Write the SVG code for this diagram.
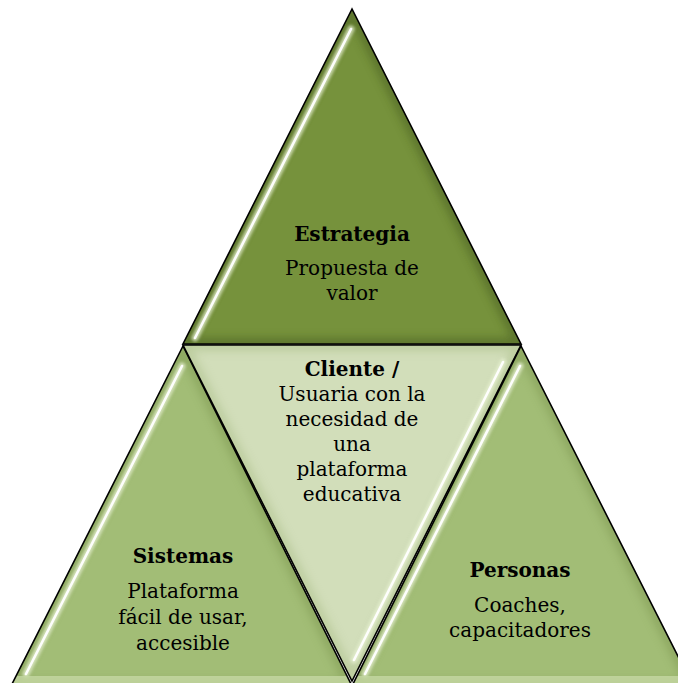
<svg xmlns="http://www.w3.org/2000/svg" width="678" height="683" viewBox="0 0 678 683">
<defs>
<style>
.t{font-family:"DejaVu Serif","Liberation Serif",serif;font-size:20px;fill:#000;text-anchor:middle}
.b{font-weight:bold}
.edge{fill:none;stroke:#000;stroke-width:1.6;stroke-linejoin:miter}
.shade{fill:none;stroke-width:12;filter:url(#blur4)}
.hl1{stroke:#e6f0d0;stroke-width:7;opacity:.75;filter:url(#blur2);stroke-linecap:round}
.hl2{stroke:#ffffff;stroke-width:2.6;opacity:.95;stroke-linecap:round}
</style>
<filter id="blur4" x="-20%" y="-20%" width="140%" height="140%"><feGaussianBlur stdDeviation="4"/></filter>
<filter id="blur2" x="-20%" y="-20%" width="140%" height="140%"><feGaussianBlur stdDeviation="1.5"/></filter>
<clipPath id="cT"><polygon points="352,9 183,344 521,344"/></clipPath>
<clipPath id="cL"><polygon points="183,346 11,686 352,686"/></clipPath>
<clipPath id="cC"><polygon points="183,345 521,345 352,681"/></clipPath>
<clipPath id="cR"><polygon points="521,346 352,686 693,686"/></clipPath>
</defs>
<rect width="678" height="683" fill="#fff"/>

<g id="node-estrategia">
<g clip-path="url(#cT)">
<polygon points="352,9 183,344 521,344" fill="#76923c"/>
<polygon points="352,9 183,344 521,344" class="shade" stroke="#4a5f22" opacity=".55"/>
<line x1="351" y1="29" x2="195" y2="338" class="hl1"/>
<line x1="351" y1="29" x2="195" y2="338" class="hl2"/>
</g>
<polygon points="352,9 183,344 521,344" class="edge"/>
<text class="t b" x="352" y="241">Estrategia</text>
<text class="t" x="352" y="275">Propuesta de</text>
<text class="t" x="352" y="300">valor</text>
</g>

<g id="node-sistemas">
<g clip-path="url(#cL)">
<polygon points="183,346 11,686 352,686" fill="#a2bd76"/>
<polygon points="183,346 11,686 352,686" class="shade" stroke="#7d9650" opacity=".5"/>
<line x1="182" y1="366" x2="26" y2="674" class="hl1"/>
<line x1="182" y1="366" x2="26" y2="674" class="hl2"/>
<rect x="0" y="676" width="400" height="10" fill="#c5d8a4" opacity=".8"/>
</g>
<polygon points="183,346 11,686 352,686" class="edge"/>
<text class="t b" x="183" y="563">Sistemas</text>
<text class="t" x="183" y="598">Plataforma</text>
<text class="t" x="183" y="624">fácil de usar,</text>
<text class="t" x="183" y="650">accesible</text>
</g>

<g id="node-cliente">
<g clip-path="url(#cC)">
<polygon points="183,345 521,345 352,681" fill="#d2deba"/>
<polygon points="183,345 521,345 352,681" class="shade" stroke="#a9bd86" opacity=".5"/>
<line x1="503" y1="362" x2="354" y2="660" class="hl1"/>
<line x1="503" y1="362" x2="354" y2="660" class="hl2"/>
</g>
<polygon points="183,345 521,345 352,681" class="edge"/>
<text class="t b" x="352" y="376">Cliente /</text>
<text class="t" x="352" y="401">Usuaria con la</text>
<text class="t" x="352" y="426">necesidad de</text>
<text class="t" x="352" y="451">una</text>
<text class="t" x="352" y="476">plataforma</text>
<text class="t" x="352" y="501">educativa</text>
</g>

<g id="node-personas">
<g clip-path="url(#cR)">
<polygon points="521,346 352,686 693,686" fill="#a2bd76"/>
<polygon points="521,346 352,686 693,686" class="shade" stroke="#7d9650" opacity=".5"/>
<line x1="520" y1="366" x2="365" y2="674" class="hl1"/>
<line x1="520" y1="366" x2="365" y2="674" class="hl2"/>
<rect x="330" y="676" width="400" height="10" fill="#c5d8a4" opacity=".8"/>
</g>
<polygon points="521,346 352,686 693,686" class="edge"/>
<text class="t b" x="520" y="577">Personas</text>
<text class="t" x="520" y="612">Coaches,</text>
<text class="t" x="520" y="637">capacitadores</text>
</g>

<g id="connectors"></g>
</svg>
